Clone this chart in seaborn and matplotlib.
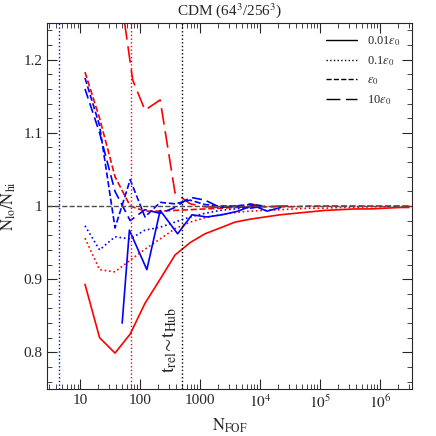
import numpy as np
import seaborn as sns
import matplotlib.pyplot as plt
from matplotlib.lines import Line2D

# bin centres (N_FOF)
n_bins = [12, 21, 38, 68, 120, 215, 380, 680, 1200, 2150, 3800, 6800, 12000,
          21500, 38000, 68000, 120000, 215000, 380000, 680000, 1200000, 2150000, 3000000]

# red: low-res comparison, blue: high-res comparison
red_001 = [0.893, 0.820, 0.799, 0.825, 0.867, 0.900, 0.933, 0.950, 0.962, 0.970, 0.978,
           0.982, 0.985, 0.988, 0.990, 0.992, 0.994, 0.995, 0.996, 0.996, 0.997, 0.998, 0.998]
red_01 = [0.956, 0.913, 0.910, 0.926, 0.941, 0.955, 0.969, 0.978, 0.984, 0.988, 0.991,
          0.993, 0.994, 0.995, 0.996, 0.997, 0.997, 0.998, 0.998, 0.999, 0.999, 0.999, 0.999]
red_1 = [1.183, 1.120, 1.040, 1.000, 0.993, 0.993, 0.994, 0.995, 0.996, 0.997, 0.998,
         0.999, 0.999, 0.999, 0.999, 1.000, 1.000, 1.000, 1.000, 1.000, 1.000, 1.000, 1.000]
red_10_x = [55, 75, 120, 215, 380, 680, 1200, 2150, 3800, 6800, 12000, 21500, 38000]
red_10 = [1.25, 1.172, 1.131, 1.145, 1.018, 1.003, 0.999, 0.998, 0.999, 1.003, 0.999, 1.000, 1.000]

blue_001_x = [50, 66, 129, 215, 420, 730, 1290, 2300, 4300, 7500, 13000, 22000]
blue_001 = [0.840, 0.967, 0.913, 0.994, 0.962, 0.988, 0.985, 0.988, 0.993, 1.001, 0.993, 0.998]
blue_01 = [0.973, 0.940, 0.958, 0.955, 0.967, 0.971, 0.978, 0.985, 0.990, 0.994,
           0.996, 0.998, 0.999]
blue_1 = [1.175, 1.110, 0.970, 1.036, 0.985, 1.005, 1.003, 1.008, 1.002, 1.000,
          1.000, 1.002, 1.000]
blue_10 = [1.160, 1.100, 1.020, 0.980, 0.995, 0.990, 0.998, 1.012, 1.008, 0.998,
           1.000, 0.997, 1.000]

vlines = [(4.5, 'blue'), (70, 'red'), (500, 'black')]

sns.set_style('ticks')
plt.rcParams['font.family'] = ['Liberation Serif', 'DejaVu Serif']
plt.rcParams['mathtext.fontset'] = 'stix'

fig = plt.figure(figsize=(4.36, 4.36), dpi=100)
ax = fig.add_axes([0.108, 0.108, 0.837, 0.839])

long_dash = (0, (10, 4))
sns.lineplot(x=n_bins, y=red_001, color='red', ax=ax, lw=1.2)
sns.lineplot(x=n_bins, y=red_01, color='red', linestyle=':', ax=ax, lw=1.2)
sns.lineplot(x=n_bins, y=red_1, color='red', linestyle='--', ax=ax, lw=1.2)
sns.lineplot(x=red_10_x, y=red_10, color='red', linestyle=long_dash, ax=ax, lw=1.2)
sns.lineplot(x=blue_001_x, y=blue_001, color='blue', ax=ax, lw=1.2)
sns.lineplot(x=n_bins[:13], y=blue_01, color='blue', linestyle=':', ax=ax, lw=1.2)
sns.lineplot(x=n_bins[:13], y=blue_1, color='blue', linestyle='--', ax=ax, lw=1.2)
sns.lineplot(x=n_bins[:13], y=blue_10, color='blue', linestyle=(0, (6, 3)), ax=ax, lw=1.2)

ax.axhline(1.0, color='0.3', ls='--', lw=1)
for xv, c in vlines:
    ax.axvline(xv, color=c, ls=':', lw=1)

ax.text(440, 0.772, r'$\mathrm{t_{rel}}\!\sim\!\mathrm{t_{Hub}}$', rotation=90,
        ha='right', va='bottom', fontsize=14)

ax.set_xscale('log')
ax.set_xlim(2.8, 3.4e6)
ax.set_ylim(0.75, 1.25)
ax.set_xticks([10, 100, 1000, 1e4, 1e5, 1e6],
              ['10', '100', '1000', r'$10^4$', r'$10^5$', r'$10^6$'])
ax.set_yticks([0.8, 0.9, 1.0, 1.1, 1.2], ['0.8', '0.9', '1', '1.1', '1.2'])
ax.set_yticks(np.arange(0.76, 1.25, 0.02), minor=True)
ax.tick_params(which='both', direction='in', top=True, right=True, labelsize=11)
ax.tick_params(which='major', length=7)
ax.tick_params(which='minor', length=3.5)
ax.set_xlabel(r'$\mathrm{N_{FOF}}$', fontsize=12)
ax.set_ylabel(r'$\mathrm{N_{lo}/N_{hi}}$', fontsize=12)
ax.set_title(r'CDM (64$^3$/256$^3$)', fontsize=11)

handles = [Line2D([], [], color='k', lw=1),
           Line2D([], [], color='k', ls=':', lw=1),
           Line2D([], [], color='k', ls='--', lw=1),
           Line2D([], [], color='k', ls=long_dash, lw=1)]
labels = [r'0.01$\epsilon_0$', r'0.1$\epsilon_0$', r'$\epsilon_0$', r'10$\epsilon_0$']
ax.legend(handles, labels, frameon=False, loc='upper right', fontsize=9, handlelength=2.5)

fig.savefig('out.png', dpi=100)
